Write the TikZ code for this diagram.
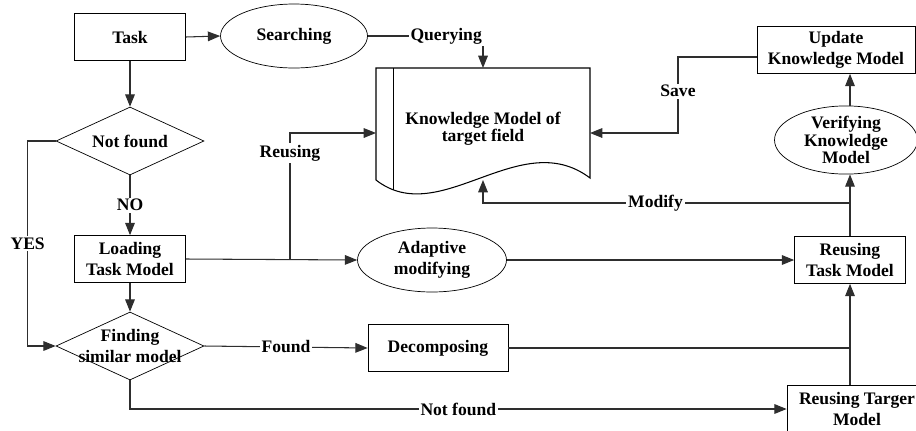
\documentclass[tikz,border=0pt]{standalone}
\usepackage{fontspec}
\setmainfont{Liberation Serif}
\usepackage{xcolor}
\usetikzlibrary{positioning,arrows.meta,shapes.geometric,calc}
\definecolor{lineGray}{HTML}{2E2E2E}

\begin{document}
\begin{tikzpicture}[
    x=0.02cm, y=-0.02cm,
    box/.style={draw, fill=white, minimum width=2.22cm, minimum height=0.94cm, align=center, font=\bfseries, inner sep=1pt},
    oval/.style={draw, ellipse, minimum width=2.94cm, minimum height=1.28cm, align=center, font=\bfseries, inner sep=0pt},
    decision/.style={draw, diamond, minimum width=2.96cm, minimum height=1.36cm, inner sep=0pt},
    lbl/.style={fill=white, text=black, inner sep=1pt, font=\bfseries},
    arr/.style={-{Triangle[length=7pt,width=5.5pt]}, lineGray, line width=0.6pt},
    ln/.style={lineGray, line width=0.6pt}
  ]
  \useasboundingbox (0,0) rectangle (916,430);

  % left column
  \node[box] (task) at (130,37) {Task};
  \node[decision, label={[font=\bfseries]center:Not found}] (notfound) at (130,141) {};
  \node[box] (load) at (130,259) {Loading\\Task Model};
  \node[decision, label={[font=\bfseries, align=center]center:Finding\\similar model}] (finding) at (130,346) {};

  % middle
  \node[oval] (search) at (294,36) {Searching};
  \node[oval, minimum width=2.98cm] (adapt) at (432,260) {Adaptive\\modifying};
  \node[box, minimum width=2.8cm] (decomp) at (438,348) {Decomposing};

  % knowledge document
  \draw[line width=0.6pt] (376,68) -- (590,68) -- (590,178)
    .. controls (520,125) and (440,230) .. (376,180) -- cycle;
  \draw[line width=0.5pt] (393,68) -- (393,190);
  \node[font=\bfseries\fontsize{10}{9.6}\selectfont, align=center] (kmodel) at (483,129) {Knowledge Model of\\target field};
  \coordinate (kdocT) at (483,68);
  \coordinate (kdocL) at (376,133);
  \coordinate (kdocR) at (590,133);
  \coordinate (kdocB) at (483,180);

  % right column
  \node[box, minimum width=3.16cm] (update) at (836,50) {Update\\Knowledge Model};
  \node[oval, minimum width=2.86cm, minimum height=1.3cm, font=\bfseries\fontsize{10}{8.8}\selectfont] (verify) at (846,140) {Verifying\\Knowledge\\Model};
  \node[box] (reuseTM) at (850,260) {Reusing\\Task Model};
  \node[box, minimum width=2.8cm, minimum height=0.96cm] (reuseTgt) at (857,409) {Reusing Targer\\Model};

  % connectors
  \draw[arr] (task.east) -- (search.west);
  \draw[arr] (search.east) -- node[lbl, pos=0.68] {Querying} (kdocT |- search.east) -- (kdocT);
  \draw[arr] (task.south) -- (notfound.north);
  \draw[arr] (notfound.south) -- node[lbl] {NO} (load.north);
  \draw[arr] (notfound.west) -- ++(-28,0) |- node[lbl, pos=0.25] {YES} (finding.west);
  \draw[arr] (load.south) -- (finding.north);
  \draw[arr] (load.east) -- (adapt.west);
  \draw[arr] (290,259) |- node[lbl, pos=0.42] {Reusing} (kdocL);
  \draw[arr] (finding.east) -- node[lbl] {Found} (decomp.west);
  \draw[arr] (finding.south) |- node[lbl, pos=0.75] {Not found} (reuseTgt.west);
  \draw[arr] (adapt.east) -- (reuseTM.west);
  \draw[ln] (decomp.east) -- (decomp.east -| reuseTM.south);
  \draw[arr] (reuseTgt.north -| reuseTM.south) -- (reuseTM.south);
  \draw[arr] (reuseTM.north) -- (reuseTM.north |- verify.south);
  \draw[arr] (reuseTM.north |- 0,203) -- node[lbl, pos=0.53] {Modify} (kdocB |- 0,203) -- (kdocB);
  \draw[arr] (verify.north -| reuseTM.north) -- (reuseTM.north |- update.south);
  \draw[arr] ($(update.west)+(0,7)$) -- (678,57) -- node[lbl, pos=0.45] {Save} (678,133) -- (kdocR);
\end{tikzpicture}
\end{document}
